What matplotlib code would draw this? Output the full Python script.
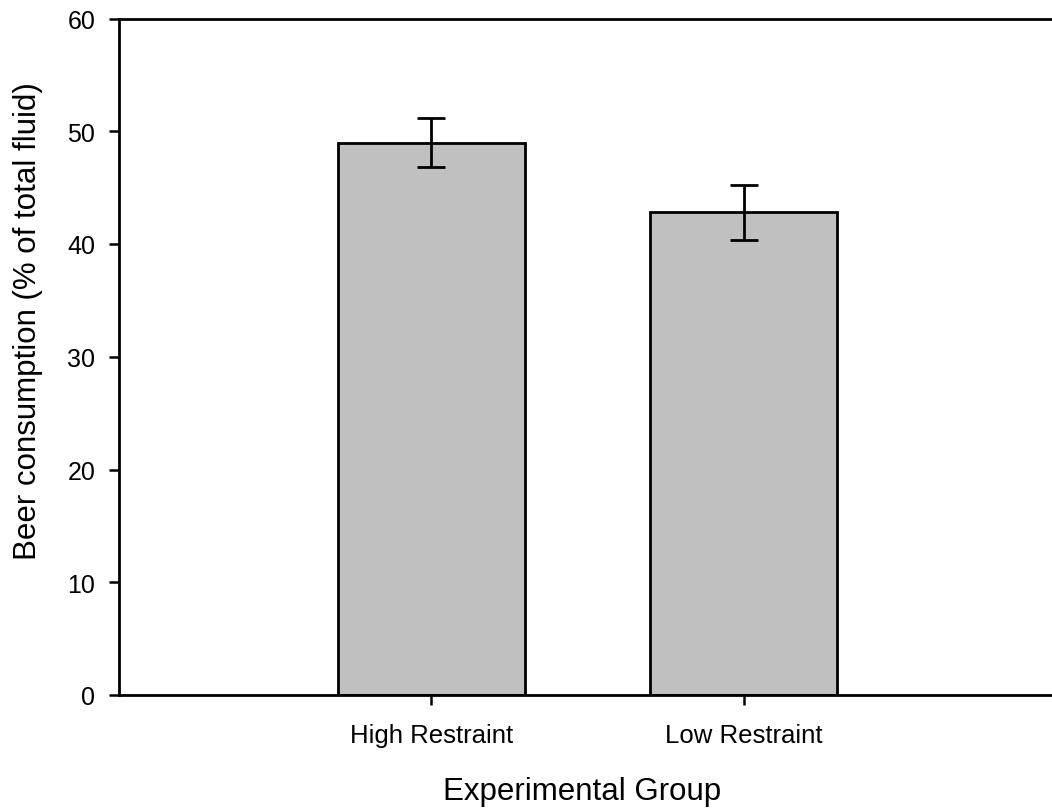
#!/usr/bin/env python3
"""Beer consumption by restraint group, bar chart with error bars."""

import matplotlib
matplotlib.use('Agg')
import matplotlib.pyplot as plt

groups = ['High Restraint', 'Low Restraint']
means = [49.0, 42.8]
errors = [2.15, 2.45]
y_ticks = [0, 10, 20, 30, 40, 50, 60]

plt.rcParams['font.family'] = ['Liberation Sans', 'DejaVu Sans']

fig = plt.figure(figsize=(10.52, 8.12), dpi=100)
W, H = 1052, 812
ax = fig.add_axes([119 / W, (H - 696) / H, (1056 - 119) / W, (696 - 19.5) / H])

x = [1, 2]
ax.bar(x, means, width=0.6, color='#c0c0c0', edgecolor='black', linewidth=2)
ax.errorbar(x, means, yerr=errors, fmt='none', ecolor='black',
            elinewidth=2, capsize=10, capthick=2)

ax.set_xlim(0, 3)
ax.set_ylim(0, 60)
ax.set_xticks(x)
ax.set_xticklabels(groups, fontsize=18.5)
ax.set_yticks(y_ticks)
ax.set_yticklabels([str(t) for t in y_ticks], fontsize=18)
ax.tick_params(axis='both', direction='out', length=7, width=1.8)
ax.tick_params(axis='y', pad=10)
ax.tick_params(axis='x', pad=13)

for side in ['left', 'bottom', 'top']:
    ax.spines[side].set_linewidth(2)
ax.spines['right'].set_visible(False)

ax.set_xlabel('Experimental Group', fontsize=22.5)
ax.set_ylabel('Beer consumption (% of total fluid)', fontsize=22.5)
ax.xaxis.set_label_coords(0.494, -0.119)
ax.yaxis.set_label_coords(-0.081, 0.554)

fig.savefig('out.png', dpi=100)
